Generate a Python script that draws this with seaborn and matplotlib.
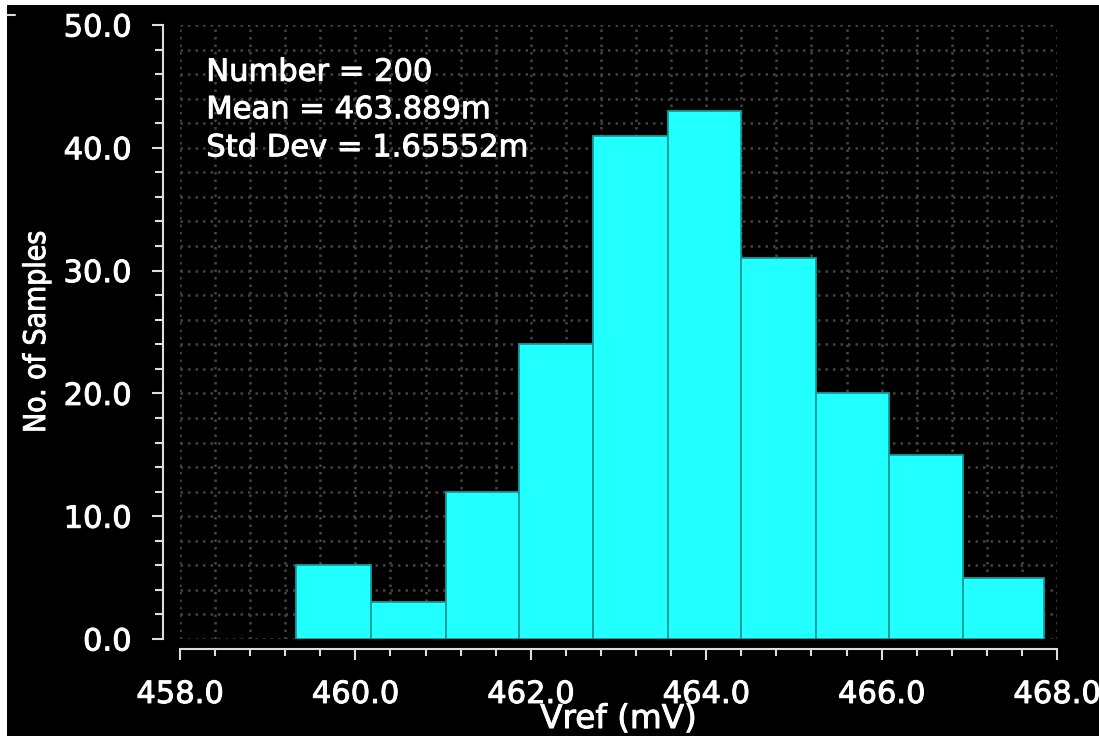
import numpy as np
import matplotlib
matplotlib.use("Agg")
import matplotlib.pyplot as plt
from matplotlib.ticker import MultipleLocator, FormatStrFormatter
from matplotlib.patches import Rectangle
from matplotlib.lines import Line2D
import matplotlib.patheffects as pe
import seaborn as sns

# histogram
bin_edges = [459.32, 460.18, 461.03, 461.86, 462.71, 463.56, 464.40, 465.25, 466.08, 466.93, 467.85]
counts = [6, 3, 12, 24, 41, 43, 31, 20, 15, 5]
stats_lines = ["Number = 200", "Mean = 463.889m", "Std Dev = 1.65552m"]
x_label = "Vref (mV)"
y_label = "No. of Samples"

bin_centers = [(a + b) / 2 for a, b in zip(bin_edges[:-1], bin_edges[1:])]

sns.set_theme(style="ticks", rc={"axes.facecolor": "black", "figure.facecolor": "black"})
plt.rcParams["font.family"] = ["DejaVu Sans"]

W, H = 1099, 736
fig = plt.figure(figsize=(W / 100, H / 100), dpi=100)
# thin white strip at top and left, as in the screenshot
fig.add_artist(Rectangle((0, 1 - 5 / H), 1, 5 / H, transform=fig.transFigure,
                         facecolor="white", edgecolor="none"))
fig.add_artist(Rectangle((0, 0), 7 / W, 1, transform=fig.transFigure,
                         facecolor="white", edgecolor="none"))
fig.add_artist(Line2D([7 / W, 15 / W], [1 - 15 / H, 1 - 15 / H], transform=fig.transFigure,
                      color="#dddddd", lw=1.5))

thick = [pe.withStroke(linewidth=0.7, foreground="white")]

ax = fig.add_axes([180 / W, 1 - 639 / H, 877 / W, 614 / H])
ax.set_facecolor("black")

sns.histplot(x=bin_centers, weights=counts, bins=bin_edges, color="#22ffff",
             edgecolor="#139c9c", linewidth=1.3, alpha=1, ax=ax, zorder=3)

ax.set_xlim(458, 468)
ax.set_ylim(0, 50)
ax.xaxis.set_major_locator(MultipleLocator(2))
ax.xaxis.set_minor_locator(MultipleLocator(0.4))
ax.yaxis.set_major_locator(MultipleLocator(10))
ax.yaxis.set_minor_locator(MultipleLocator(2))
ax.xaxis.set_major_formatter(FormatStrFormatter("%.1f"))
ax.yaxis.set_major_formatter(FormatStrFormatter("%.1f"))

ax.grid(which="both", color="#444444", linestyle=(0, (1, 2)), linewidth=1.8, zorder=0)
ax.set_axisbelow(True)

for s in ["top", "right"]:
    ax.spines[s].set_visible(False)
ax.spines["left"].set_position(("outward", 12))
ax.spines["bottom"].set_position(("outward", 7.5))
for s in ["left", "bottom"]:
    ax.spines[s].set_color("#dddddd")
    ax.spines[s].set_linewidth(1.5)

ax.tick_params(axis="y", which="major", length=8, width=1.5, color="#dddddd",
               labelcolor="white", labelsize=22, pad=15)
ax.tick_params(axis="y", which="minor", length=5.5, width=1.5, color="#dddddd")
ax.tick_params(axis="x", which="major", length=8, width=1.5, color="#dddddd",
               labelcolor="white", labelsize=22, pad=14)
ax.tick_params(axis="x", which="minor", length=5, width=1.5, color="#dddddd")
for lab in ax.get_xticklabels() + ax.get_yticklabels():
    lab.set_path_effects(thick)

ax.set_xlabel(x_label, color="white", fontsize=23.5, labelpad=-5, path_effects=thick)
ax.set_ylabel(y_label, color="white", fontsize=21.5, labelpad=9, fontstretch="condensed",
              family=["Liberation Sans Narrow", "DejaVu Sans"], path_effects=thick)

for txt, yy in zip(stats_lines, [0.923, 0.862, 0.800]):
    ax.text(0.03, yy, txt, transform=ax.transAxes, color="white", fontsize=22,
            va="center", ha="left", zorder=5, path_effects=thick)

fig.savefig("out.png", dpi=100, facecolor=fig.get_facecolor())
